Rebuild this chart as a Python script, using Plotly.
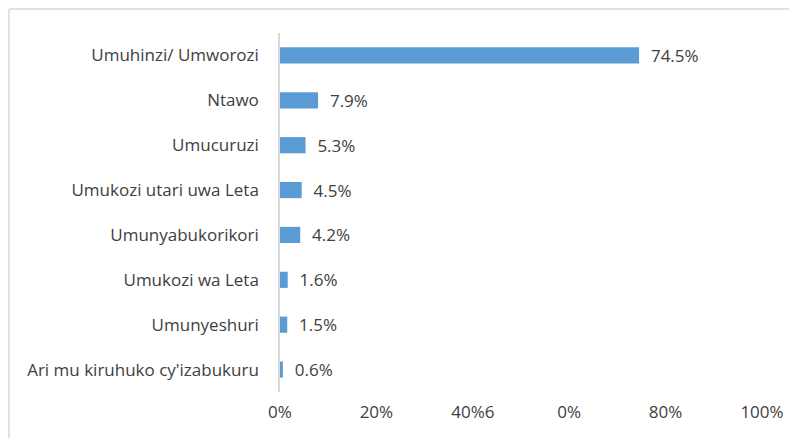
import plotly.graph_objects as go

# categories listed top to bottom as in the chart
occupations = ['Umuhinzi/ Umworozi', 'Ntawo', 'Umucuruzi', 'Umukozi utari uwa Leta',
               'Umunyabukorikori', 'Umukozi wa Leta', 'Umunyeshuri', "Ari mu kiruhuko cy'izabukuru"]
shares = [74.5, 7.9, 5.3, 4.5, 4.2, 1.6, 1.5, 0.6]

tick_vals = [0, 20, 40, 60, 80, 100]
tick_text = ['0%', '20%', '40%6', '0%', '80%', '100%']

# the page body adds an 8px offset, so the figure is 8px smaller
W, H = 789, 430
ml, mr, mt, mb = 272, 35, 25, 46

fig = go.Figure(go.Bar(
    x=shares,
    y=occupations,
    orientation='h',
    marker=dict(color='#5B9BD5', line=dict(width=0)),
    text=shares,
    texttemplate='  %{x:.1f}%',
    textposition='outside',
    constraintext='none',
    textfont=dict(color='#404040', size=17),
    cliponaxis=False,
))

fig.update_layout(
    width=W, height=H,
    margin=dict(l=ml, r=mr, t=mt, b=mb),
    plot_bgcolor='white', paper_bgcolor='white',
    bargap=0.64,
    font=dict(family='Open Sans', size=17, color='#404040'),
    showlegend=False,
)

fig.update_xaxes(range=[0, 100], tickvals=tick_vals, ticktext=tick_text,
                 showgrid=False, zeroline=False, showline=False,
                 tickfont=dict(size=17), ticklabelstandoff=8)
fig.update_yaxes(autorange='reversed', showgrid=False, showline=True,
                 linecolor='#d9d9d9', linewidth=1.5, ticks='',
                 ticklabelstandoff=16, tickfont=dict(size=17))

# outer chart frame: only the top and left edges are inside the picture
pw = W - ml - mr
ph = H - mt - mb
fx0 = (1 - ml) / pw
fx1 = (W - ml) / pw
fy0 = -mb / ph
fy1 = (H - mb - 1) / ph
frame = dict(color='#d9d9d9', width=1.5)
fig.add_shape(type='line', xref='paper', yref='paper', x0=fx0, x1=fx1, y0=fy1, y1=fy1,
              line=frame, layer='below')
fig.add_shape(type='line', xref='paper', yref='paper', x0=fx0, x1=fx0, y0=fy0, y1=fy1,
              line=frame, layer='below')

fig.write_html("out.html")
